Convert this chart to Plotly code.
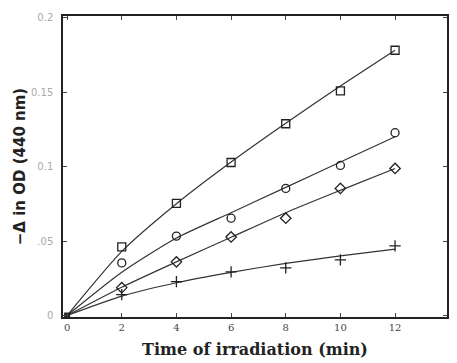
import plotly.graph_objects as go

time_min = [0, 2, 4, 6, 8, 10, 12]

sq_pts = [0, 0.046, 0.0753, 0.1027, 0.1287, 0.1507, 0.178]
ci_pts = [0, 0.0353, 0.0533, 0.0653, 0.0853, 0.1007, 0.1227]
di_pts = [0, 0.0187, 0.036, 0.0527, 0.0653, 0.0853, 0.0987]
pl_pts = [0, 0.014, 0.0227, 0.0293, 0.032, 0.0373, 0.0467]

sq_fit = [0, 0.043, 0.075, 0.103, 0.129, 0.154, 0.178]
ci_fit = [0, 0.029, 0.052, 0.069, 0.086, 0.103, 0.12]
di_fit = [0, 0.019, 0.036, 0.0525, 0.069, 0.084, 0.0987]
pl_fit = [0, 0.013, 0.022, 0.029, 0.035, 0.040, 0.0445]

x_ticks = [0, 2, 4, 6, 8, 10, 12, 14]
y_ticks = [0, 0.05, 0.1, 0.15, 0.2]
y_tick_text = ["0", ".05", "0.1", "0.15", "0.2"]

fig = go.Figure()
series = [
    (sq_pts, sq_fit, "square-open"),
    (ci_pts, ci_fit, "circle-open"),
    (di_pts, di_fit, "diamond-open"),
    (pl_pts, pl_fit, "cross-thin-open"),
]
for pts, fit, sym in series:
    fig.add_trace(go.Scatter(x=time_min, y=fit, mode="lines",
                             line=dict(color="#333", width=1.2, shape="spline", smoothing=0.6),
                             showlegend=False, hoverinfo="skip"))
    fig.add_trace(go.Scatter(x=time_min[1:], y=pts[1:], mode="markers",
                             marker=dict(symbol=sym, size=8, color="#222",
                                         line=dict(width=1.3, color="#222")),
                             showlegend=False))
fig.add_trace(go.Scatter(x=[0], y=[0], mode="markers",
                         marker=dict(symbol="square", size=6, color="#222"),
                         showlegend=False))

fig.update_layout(
    width=449, height=355,
    margin=dict(l=55, r=10, t=8, b=46),
    paper_bgcolor="white", plot_bgcolor="white",
    xaxis=dict(range=[-0.15, 13.9], tickvals=x_ticks, ticks="inside", ticklen=4,
               showline=True, linecolor="#222", linewidth=1.5, mirror="ticks",
               showgrid=False, zeroline=False, automargin=False,
               tickfont=dict(family="DejaVu Serif", size=10, color="#444"),
               title=dict(text="<b>Time of irradiation (min)</b>",
                          font=dict(family="DejaVu Serif", size=16, color="#222"),
                          standoff=12)),
    yaxis=dict(range=[-0.001, 0.201], tickvals=y_ticks, ticktext=y_tick_text,
               ticks="inside", ticklen=4, ticklabelstandoff=6,
               showline=True, linecolor="#222", linewidth=1.5, mirror="ticks",
               showgrid=False, zeroline=False, automargin=False,
               tickfont=dict(family="DejaVu Sans", size=10, color="#aaa"),
               title=dict(text="<b>−Δ in OD (440 nm)</b>",
                          font=dict(family="DejaVu Sans", size=15, color="#222"),
                          standoff=2)),
)
fig.write_html("out.html")
